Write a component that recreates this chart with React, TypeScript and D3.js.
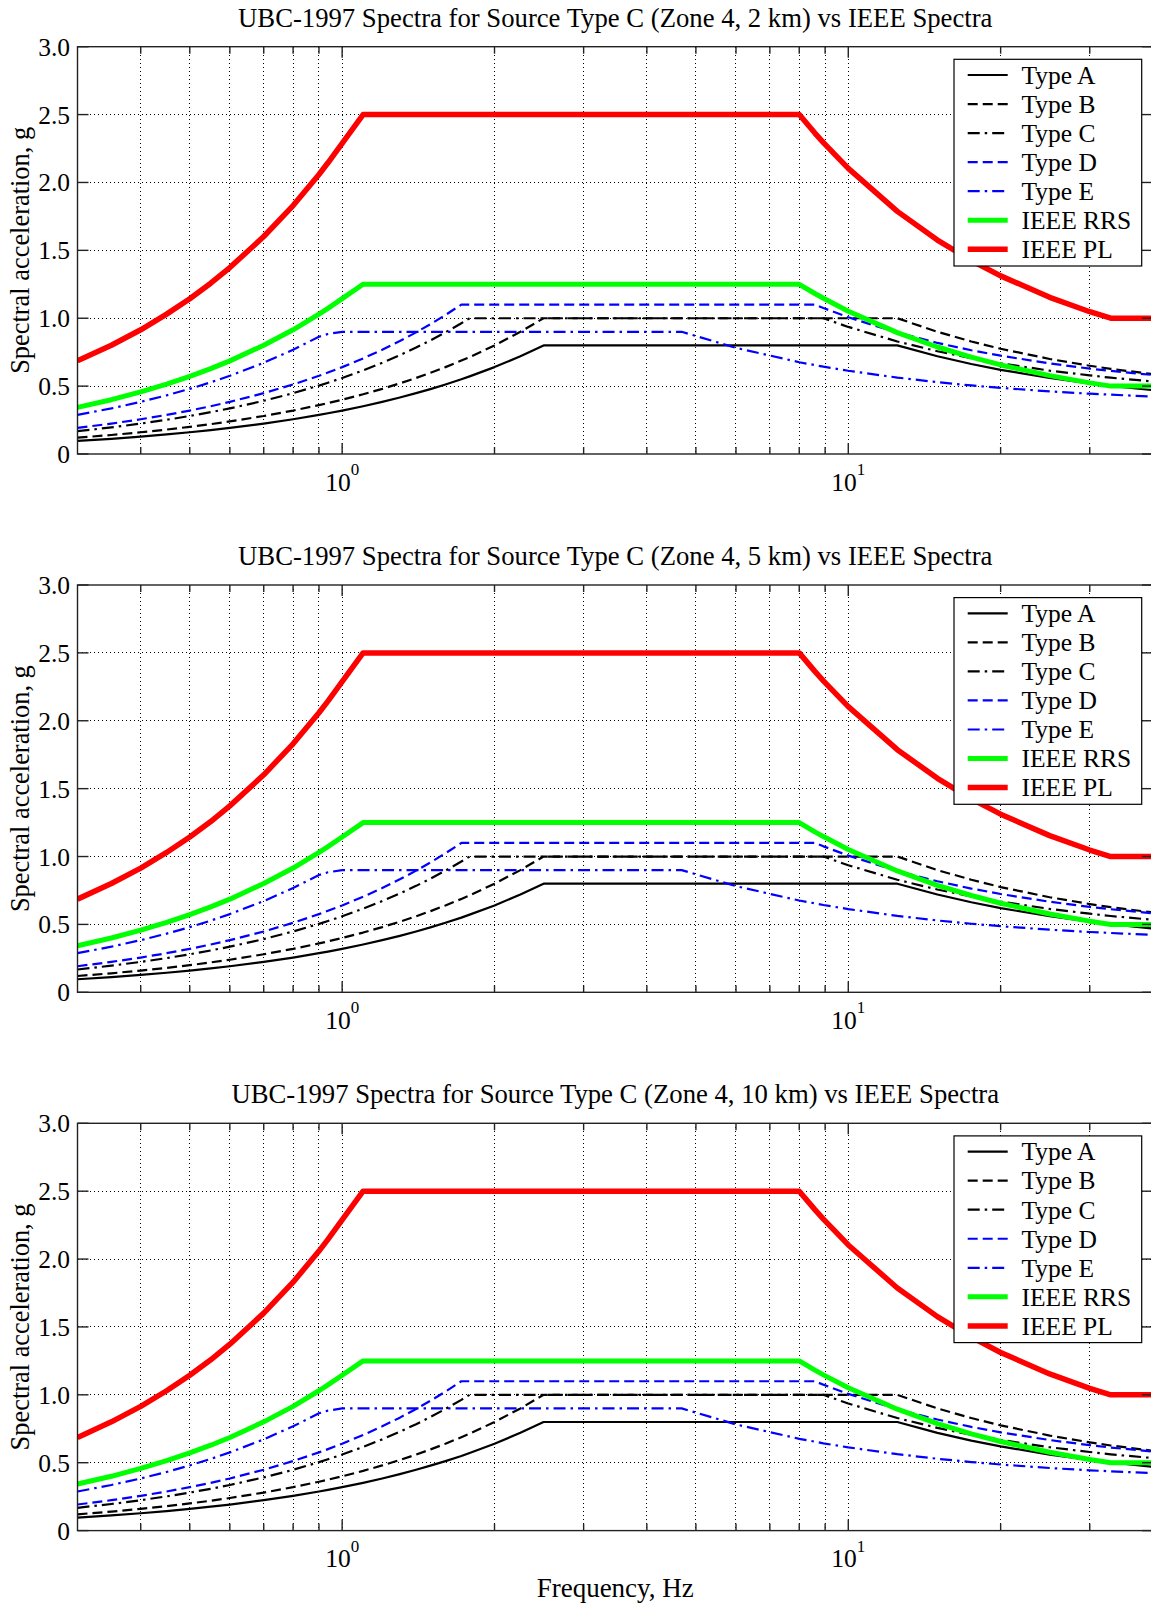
import React from 'react';
import * as d3 from 'd3';

// ---------- data ----------
const freqHz = [
  0.3, 0.35, 0.4, 0.45, 0.5, 0.55, 0.6, 0.7, 0.8, 0.9,
  0.9375, 1.0, 1.1, 1.2, 1.3, 1.4, 1.5, 1.6, 1.72, 1.786,
  2.0, 2.25, 2.5, 3.0, 4.0, 4.6875, 6.0, 8.0, 8.59, 8.93,
  10, 12.5, 15, 17.5, 20, 25, 30, 33, 40,
];

const typeA = [
  0.096, 0.112, 0.128, 0.144, 0.16, 0.176, 0.192, 0.224, 0.256, 0.288,
  0.3, 0.32, 0.352, 0.384, 0.416, 0.448, 0.48, 0.512, 0.55, 0.572,
  0.64, 0.72, 0.8, 0.8, 0.8, 0.8, 0.8, 0.8, 0.8, 0.8,
  0.8, 0.8, 0.72, 0.663, 0.62, 0.56, 0.52, 0.502, 0.47,
];
const typeB = [
  0.12, 0.14, 0.16, 0.18, 0.2, 0.22, 0.24, 0.28, 0.32, 0.36,
  0.375, 0.4, 0.44, 0.48, 0.52, 0.56, 0.6, 0.64, 0.688, 0.714,
  0.8, 0.9, 1.0, 1.0, 1.0, 1.0, 1.0, 1.0, 1.0, 1.0,
  1.0, 1.0, 0.9, 0.829, 0.775, 0.7, 0.65, 0.627, 0.588,
];
const typeC = [
  0.168, 0.196, 0.224, 0.252, 0.28, 0.308, 0.336, 0.392, 0.448, 0.504,
  0.525, 0.56, 0.616, 0.672, 0.728, 0.784, 0.84, 0.896, 0.963, 1.0,
  1.0, 1.0, 1.0, 1.0, 1.0, 1.0, 1.0, 1.0, 1.0, 1.0,
  0.936, 0.829, 0.757, 0.706, 0.668, 0.614, 0.579, 0.562, 0.534,
];
const typeD = [
  0.192, 0.224, 0.256, 0.288, 0.32, 0.352, 0.384, 0.448, 0.512, 0.576,
  0.6, 0.64, 0.704, 0.768, 0.832, 0.896, 0.96, 1.024, 1.1, 1.1,
  1.1, 1.1, 1.1, 1.1, 1.1, 1.1, 1.1, 1.1, 1.1, 1.075,
  1.007, 0.894, 0.818, 0.764, 0.724, 0.667, 0.629, 0.612, 0.582,
];
const typeE = [
  0.288, 0.336, 0.384, 0.432, 0.48, 0.528, 0.576, 0.672, 0.768, 0.864,
  0.884, 0.9, 0.9, 0.9, 0.9, 0.9, 0.9, 0.9, 0.9, 0.9,
  0.9, 0.9, 0.9, 0.9, 0.9, 0.9, 0.782, 0.676, 0.655, 0.643,
  0.613, 0.563, 0.529, 0.505, 0.487, 0.461, 0.444, 0.437, 0.423,
];
const ieeeRRS = [
  0.343, 0.4, 0.458, 0.515, 0.572, 0.629, 0.686, 0.801, 0.915, 1.03,
  1.073, 1.144, 1.25, 1.25, 1.25, 1.25, 1.25, 1.25, 1.25, 1.25,
  1.25, 1.25, 1.25, 1.25, 1.25, 1.25, 1.25, 1.25, 1.182, 1.147,
  1.052, 0.894, 0.788, 0.713, 0.656, 0.577, 0.524, 0.5, 0.5,
];
const ieeePL = [
  0.686, 0.801, 0.915, 1.03, 1.144, 1.258, 1.373, 1.602, 1.83, 2.059,
  2.145, 2.288, 2.5, 2.5, 2.5, 2.5, 2.5, 2.5, 2.5, 2.5,
  2.5, 2.5, 2.5, 2.5, 2.5, 2.5, 2.5, 2.5, 2.364, 2.294,
  2.104, 1.787, 1.576, 1.425, 1.312, 1.154, 1.048, 1.0, 1.0,
];

const seriesNames = ['Type A', 'Type B', 'Type C', 'Type D', 'Type E', 'IEEE RRS', 'IEEE PL'];
const seriesValues = [typeA, typeB, typeC, typeD, typeE, ieeeRRS, ieeePL];

const panelTitles = [
  'UBC-1997 Spectra for Source Type C (Zone 4, 2 km) vs IEEE Spectra',
  'UBC-1997 Spectra for Source Type C (Zone 4, 5 km) vs IEEE Spectra',
  'UBC-1997 Spectra for Source Type C (Zone 4, 10 km) vs IEEE Spectra',
];

const yTicks = [0, 0.5, 1.0, 1.5, 2.0, 2.5, 3.0];
const yTickLabels = ['0', '0.5', '1.0', '1.5', '2.0', '2.5', '3.0'];
const xMajorTicks = [1, 10];
const xMajorExp = ['0', '1'];
const xMinorTicks = [0.4, 0.5, 0.6, 0.7, 0.8, 0.9, 2, 3, 4, 5, 6, 7, 8, 9, 20, 30];
const xDomain = [0.3, 40];
const yDomain = [0, 3];

// ---------- styles ----------
const seriesStyles = [
  { color: '#000000', width: 2.2, dash: null },
  { color: '#000000', width: 2.2, dash: '10,5' },
  { color: '#000000', width: 2.2, dash: '12,5,2.5,5' },
  { color: '#0000ff', width: 2.2, dash: '10,5' },
  { color: '#0000ff', width: 2.2, dash: '12,5,2.5,5' },
  { color: '#00ff00', width: 5, dash: null },
  { color: '#ff0000', width: 5.5, dash: null },
];

const W = 1151;
const H = 1608;
const PLOT_LEFT = 77.5;
const PLOT_RIGHT = 1153;
const PANEL_H = 407.3;
const panelTops = [46.7, 585.0, 1123.3];
const FONT = "'Liberation Serif', 'Times New Roman', Times, serif";
const FS = 25.5;
const FS_TITLE = 26.7;
const FS_LABEL = 26.4;

function Panel({ top, title, idx }: { top: number; title: string; idx: number }) {
  const bottom = top + PANEL_H;
  const x = d3.scaleLog().domain(xDomain).range([PLOT_LEFT, PLOT_RIGHT]);
  const y = d3.scaleLinear().domain(yDomain).range([bottom, top]);
  const line = d3
    .line<number>()
    .x((_, i) => x(freqHz[i]))
    .y((d) => y(d));
  const clipId = `clip-${idx}`;
  const majorLen = 11;
  const minorLen = 7;
  const cx = (PLOT_LEFT + PLOT_RIGHT) / 2;

  const legX0 = 954;
  const legX1 = 1141.7;
  const legY0 = top + 12.6;
  const legY1 = top + 219.3;

  return (
    <g>
      <defs>
        <clipPath id={clipId}>
          <rect x={PLOT_LEFT} y={top} width={PLOT_RIGHT - PLOT_LEFT} height={PANEL_H} />
        </clipPath>
      </defs>
      {/* grid */}
      <g stroke="#000" strokeWidth={1} strokeDasharray="1,3" fill="none" shapeRendering="crispEdges">
        {yTicks.slice(1, -1).map((v) => (
          <line key={`gy${v}`} x1={PLOT_LEFT} x2={PLOT_RIGHT} y1={y(v)} y2={y(v)} />
        ))}
        {[...xMinorTicks, ...xMajorTicks].map((v) => (
          <line key={`gx${v}`} x1={x(v)} x2={x(v)} y1={top} y2={bottom} />
        ))}
      </g>
      {/* series */}
      <g clipPath={`url(#${clipId})`} fill="none">
        {seriesValues.map((vals, i) => (
          <path
            key={seriesNames[i]}
            d={line(vals) || ''}
            stroke={seriesStyles[i].color}
            strokeWidth={seriesStyles[i].width}
            strokeDasharray={seriesStyles[i].dash || undefined}
            strokeLinejoin="round"
          />
        ))}
      </g>
      {/* frame and ticks */}
      <g stroke="#222" strokeWidth={1.4} fill="none">
        <rect x={PLOT_LEFT} y={top} width={PLOT_RIGHT - PLOT_LEFT} height={PANEL_H} />
        {yTicks.map((v) => (
          <g key={`ty${v}`}>
            <line x1={PLOT_LEFT} x2={PLOT_LEFT + majorLen} y1={y(v)} y2={y(v)} />
            <line x1={PLOT_RIGHT - majorLen} x2={PLOT_RIGHT} y1={y(v)} y2={y(v)} />
          </g>
        ))}
        {xMajorTicks.map((v) => (
          <g key={`tx${v}`}>
            <line x1={x(v)} x2={x(v)} y1={bottom} y2={bottom - majorLen} />
            <line x1={x(v)} x2={x(v)} y1={top} y2={top + majorLen} />
          </g>
        ))}
        {xMinorTicks.map((v) => (
          <g key={`tm${v}`}>
            <line x1={x(v)} x2={x(v)} y1={bottom} y2={bottom - minorLen} />
            <line x1={x(v)} x2={x(v)} y1={top} y2={top + minorLen} />
          </g>
        ))}
      </g>
      {/* tick labels */}
      <g fontFamily={FONT} fontSize={FS} fill="#000">
        {yTicks.map((v, i) => (
          <text key={`ly${v}`} x={70} y={y(v) + 9} textAnchor="end">
            {yTickLabels[i]}
          </text>
        ))}
        {xMajorTicks.map((v, i) => (
          <text key={`lx${v}`} x={x(v)} y={bottom + 36.5} textAnchor="middle">
            <tspan>10</tspan>
            <tspan dy={-15.5} fontSize={17}>
              {xMajorExp[i]}
            </tspan>
          </text>
        ))}
        <text x={cx} y={top - 20} textAnchor="middle" fontSize={FS_TITLE}>
          {title}
        </text>
        <text
          transform={`translate(28.5, ${(top + bottom) / 2}) rotate(-90)`}
          textAnchor="middle"
          fontSize={FS_LABEL}
        >
          Spectral acceleration, g
        </text>
      </g>
      {/* legend */}
      <g>
        <rect x={legX0} y={legY0} width={legX1 - legX0} height={legY1 - legY0} fill="#fff" stroke="#000" strokeWidth={1.2} />
        {seriesNames.map((name, i) => {
          const cy = top + 28.3 + i * 29.05;
          const st = seriesStyles[i];
          return (
            <g key={`lg${name}`}>
              <line
                x1={967.7}
                x2={1007.7}
                y1={cy}
                y2={cy}
                stroke={st.color}
                strokeWidth={st.width}
                strokeDasharray={st.dash || undefined}
              />
              <text x={1021.5} y={cy + 8.8} fontFamily={FONT} fontSize={FS} fill="#000">
                {name}
              </text>
            </g>
          );
        })}
      </g>
    </g>
  );
}

export default function App() {
  return (
    <svg
      width={W}
      height={H}
      viewBox={`0 0 ${W} ${H}`}
      style={{ position: 'absolute', left: 0, top: 0, display: 'block', background: '#fff' }}
    >
      <rect x={0} y={0} width={W} height={H} fill="#fff" />
      {panelTops.map((t, i) => (
        <Panel key={i} idx={i} top={t} title={panelTitles[i]} />
      ))}
      <text
        x={(PLOT_LEFT + PLOT_RIGHT) / 2}
        y={1597}
        textAnchor="middle"
        fontFamily={FONT}
        fontSize={27}
        fill="#000"
      >
        Frequency, Hz
      </text>
    </svg>
  );
}
